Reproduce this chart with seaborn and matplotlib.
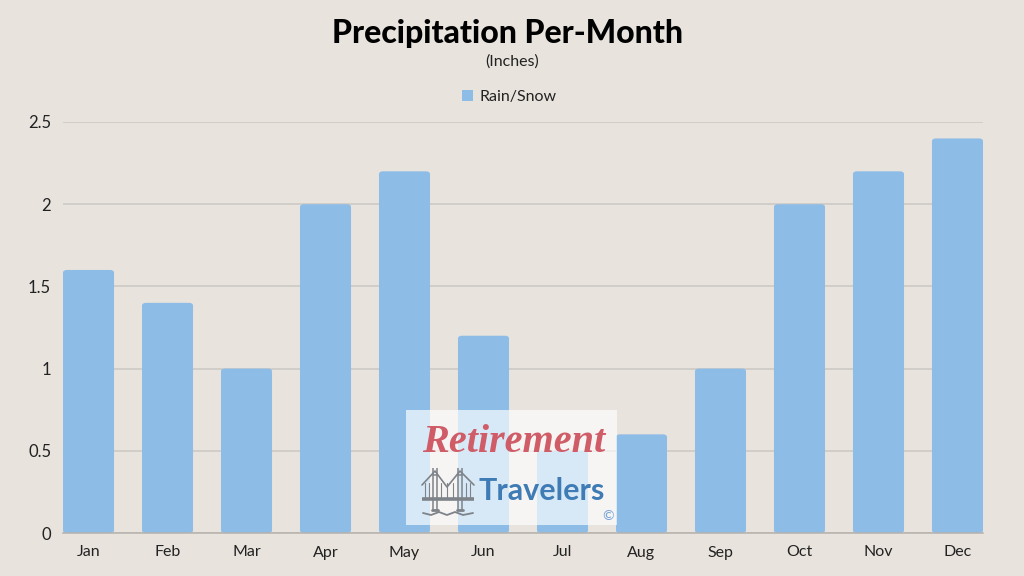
import matplotlib
matplotlib.use('Agg')
import matplotlib.pyplot as plt
from matplotlib.patches import FancyBboxPatch, Rectangle
import pandas as pd
import seaborn as sns

# Chart values
months = ['Jan', 'Feb', 'Mar', 'Apr', 'May', 'Jun', 'Jul', 'Aug', 'Sep', 'Oct', 'Nov', 'Dec']
precip = [1.6, 1.4, 1.0, 2.0, 2.2, 1.2, 0.5, 0.6, 1.0, 2.0, 2.2, 2.4]
y_ticks = [0, 0.5, 1, 1.5, 2, 2.5]
y_labels = ['0', '0.5', '1', '1.5', '2', '2.5']

BG = '#e8e3dd'
BAR = '#8dbce6'
GRID = '#cbc7c2'
W, H = 1024, 576


def round_bars(ax):
    """Swaps the square bars for ones with slightly rounded corners."""
    for bar in list(ax.patches):
        rounded = FancyBboxPatch((bar.get_x(), bar.get_y()), bar.get_width(), bar.get_height(),
                                 boxstyle='round,pad=0,rounding_size=0.05',
                                 mutation_aspect=0.35, facecolor=BAR, edgecolor='none', zorder=2)
        bar.remove()
        ax.add_patch(rounded)


def draw_logo(fig):
    """Watermark box with the text and a small bridge, placed in pixels."""
    logo = fig.add_axes([0, 0, 1, 1], zorder=5)
    logo.set_xlim(0, W)
    logo.set_ylim(H, 0)
    logo.axis('off')
    logo.add_patch(Rectangle((406, 410), 211, 115, facecolor='white', alpha=0.66, edgecolor='none'))

    logo.text(514, 443, 'Retirement', family='Liberation Serif', style='italic', weight='bold',
              fontsize=29, color='#cf5c66', ha='center', va='center')
    logo.text(542, 491, 'Travelers', family='Lato', weight='bold',
              fontsize=22, color='#3f7cb5', ha='center', va='center')
    logo.text(608, 516, '©', fontsize=10, color='#6f9fd8', ha='center', va='center')

    # bridge
    c = '#7d8389'
    for tx in (435, 460):
        logo.plot([tx - 2, tx - 2], [468, 510], color=c, lw=1.1, solid_capstyle='butt')
        logo.plot([tx + 2, tx + 2], [468, 510], color=c, lw=1.1, solid_capstyle='butt')
        logo.plot([tx - 2, tx + 2], [475, 475], color=c, lw=1.1)
        logo.plot([tx - 3, tx + 3], [510, 510], color=c, lw=2)
    logo.plot([422, 474], [499, 499], color=c, lw=2.6, solid_capstyle='butt')
    logo.plot([422, 435, 447, 460, 474], [485, 471, 487, 471, 485], color=c, lw=1.2)
    for hx in (425, 429, 441, 447, 453, 466, 470):
        logo.plot([hx, hx], [483, 499], color=c, lw=0.8)
    xs = [423, 431, 439, 447, 455, 463, 473]
    ys = [513, 515, 512, 515, 512, 515, 513]
    logo.plot(xs, ys, color=c, lw=1.3)


def main():
    sns.set_theme(style='white')
    plt.rcParams['font.family'] = ['Lato', 'DejaVu Sans']
    df = pd.DataFrame({'month': months, 'precip': precip})

    fig = plt.figure(figsize=(W / 100, H / 100), dpi=100, facecolor=BG)
    ax = fig.add_axes([63 / W, 1 - 533 / H, 920 / W, 411 / H], facecolor=BG)

    sns.barplot(data=df, x='month', y='precip', color=BAR, width=0.646,
                saturation=1, ax=ax, zorder=2)
    round_bars(ax)

    ax.set_xlim(-0.323, 11.323)
    ax.set_ylim(0, 2.5)
    ax.set_yticks(y_ticks)
    ax.set_yticklabels(y_labels)
    ax.set_xlabel('')
    ax.set_ylabel('')
    ax.grid(axis='y', color=GRID, lw=1.1)
    ax.set_axisbelow(True)
    sns.despine(ax=ax, left=True, top=True, right=True)
    ax.spines['bottom'].set_color('#b5b1ad')
    ax.spines['bottom'].set_linewidth(1.1)
    ax.tick_params(axis='both', length=0, labelsize=11.5, labelcolor='#222222')
    ax.tick_params(axis='x', pad=9)
    ax.tick_params(axis='y', pad=8.5)
    for lab in ax.get_yticklabels():
        lab.set_fontsize(12)

    fig.text(508 / W, 1 - 33 / H, 'Precipitation Per-Month', ha='center', va='center',
             fontsize=23, fontweight='black', color='black')
    fig.text(512 / W, 1 - 62 / H, '(Inches)', ha='center', va='center', fontsize=11.5, color='#222222')

    # legend marker plus label
    handle = Rectangle((0, 0), 1, 1, facecolor=BAR, edgecolor='none')
    fig.legend([handle], ['Rain/Snow'], loc='center', bbox_to_anchor=(509.5 / W, 1 - 97 / H),
               frameon=False, fontsize=11.5, handlelength=0.65, handleheight=0.65,
               handletextpad=0.45, labelcolor='#222222')

    draw_logo(fig)
    fig.savefig('out.png', dpi=100, facecolor=BG)


if __name__ == '__main__':
    main()
